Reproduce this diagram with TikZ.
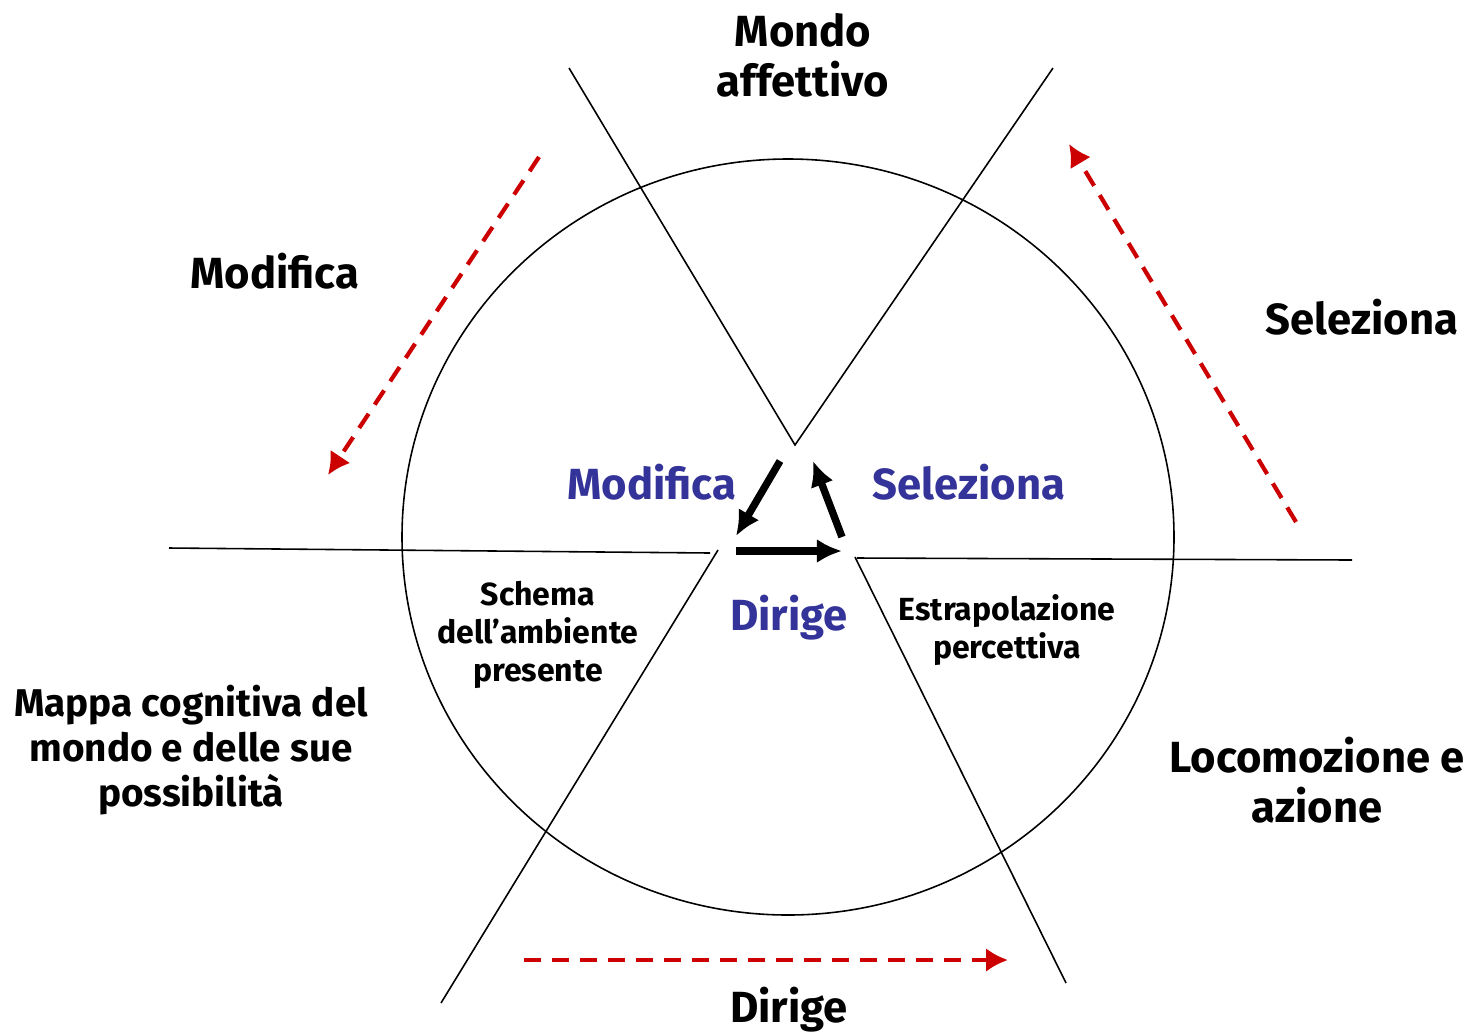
\documentclass[tikz,border=0pt]{standalone}
\usepackage{fontspec}
\setmainfont{Fira Sans}
\usetikzlibrary{arrows.meta}
\definecolor{flowred}{RGB}{204,0,0}
\definecolor{cycblue}{RGB}{51,51,153}
\tikzset{%
  >={Latex[width=2mm,length=2mm]},
  % Specifications for style of nodes:
  base/.style = {align=center, inner sep=0pt},
  outer/.style = {base, font=\bfseries\fontsize{12.4}{14.2}\selectfont},
  mid/.style = {base, font=\bfseries\fontsize{11}{12.8}\selectfont},
  small/.style = {base, font=\bfseries\fontsize{9.1}{10.8}\selectfont},
  inner/.style = {outer, text=cycblue},
  sector/.style = {draw, black, line width=0.45pt},
  cycle/.style = {->, line width=2.1pt, >={Latex[width=2.4mm,length=2.5mm]}},
  flow/.style = {->, flowred, line width=1.2pt, dash pattern=on 1.7mm off 1.1mm,
                 >={Latex[width=2.4mm,length=2.2mm]}},
}
\begin{document}
\begin{tikzpicture}[x=0.01cm, y=-0.01cm]
  \useasboundingbox (0,0) rectangle (1467,1033);

  % The circle
  \draw [sector] (788,537) ellipse [x radius=386, y radius=378];

  % End points of the sector lines
  \coordinate (apex) at (795,445);
  \coordinate (tl) at (569,68);
  \coordinate (tr) at (1053,68);
  \coordinate (ml) at (169,548);
  \coordinate (mlc) at (710,553);
  \coordinate (mr) at (1352,560);
  \coordinate (mrc) at (857,558);
  \coordinate (bl) at (441,1003);
  \coordinate (blc) at (718,550);
  \coordinate (br) at (1066,983);
  \coordinate (brc) at (855,557);

  \draw [sector] (tl) -- (apex) -- (tr);
  \draw [sector] (ml) -- (mlc);
  \draw [sector] (mrc) -- (mr);
  \draw [sector] (blc) -- (bl);
  \draw [sector] (brc) -- (br);

  % Inner cycle
  \coordinate (c1) at (780,461);
  \coordinate (c2) at (736,536);
  \coordinate (c3) at (736,551);
  \coordinate (c4) at (842,551);
  \coordinate (c5) at (842,537);
  \coordinate (c6) at (813,461);
  \draw [cycle] (c1) -- (c2);
  \draw [cycle] (c3) -- (c4);
  \draw [cycle] (c5) -- (c6);

  % Outer flow
  \coordinate (f1) at (539,157);
  \coordinate (f2) at (328,475);
  \coordinate (f3) at (1296,522);
  \coordinate (f4) at (1069,144);
  \coordinate (f5) at (524,960);
  \coordinate (f6) at (1008,960);
  \draw [flow] (f1) -- (f2);
  \draw [flow] (f3) -- (f4);
  \draw [flow] (f5) -- (f6);

  % Labels
  \node (mondo) [outer] at (803,55) {Mondo\\affettivo};
  \node (modout) [outer] at (275,271) {Modifica};
  \node (selout) [outer] at (1362,317) {Seleziona};
  \node (dirout) [outer] at (789,1010) {Dirige};
  \node (mappa) [mid] at (191,750) {Mappa cognitiva del\\mondo e delle sue\\possibilità};
  \node (loco) [outer] at (1317,780) {Locomozione e\\azione};

  \node (modin) [inner] at (652,482) {Modifica};
  \node (selin) [inner] at (969,482) {Seleziona};
  \node (dirin) [inner] at (789,618) {Dirige};

  \node (schema) [small] at (538,635) {Schema\\dell’ambiente\\presente};
  \node (estra) [small] at (1007,630) {Estrapolazione\\percettiva};
\end{tikzpicture}
\end{document}
